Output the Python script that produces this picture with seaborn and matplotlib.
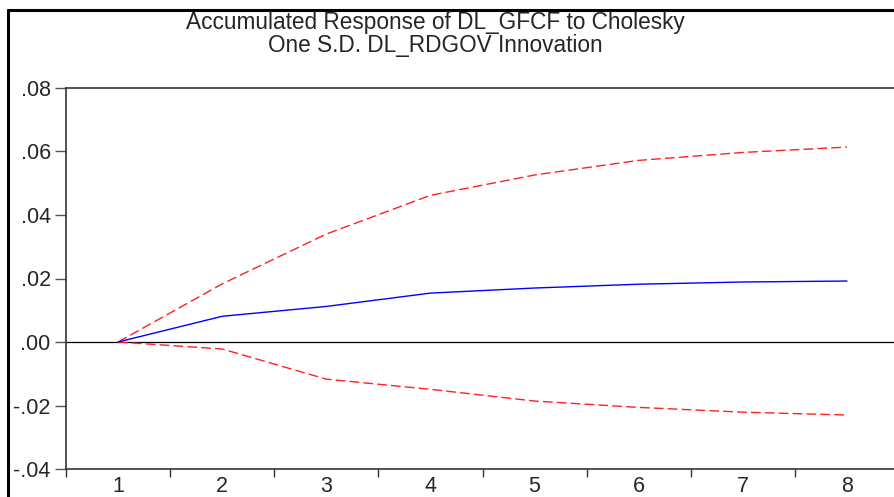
import matplotlib
matplotlib.use("Agg")
import matplotlib.pyplot as plt
from matplotlib.lines import Line2D
import pandas as pd
import seaborn as sns

sns.set_style("ticks")
plt.rcParams['font.family'] = ['Liberation Sans', 'DejaVu Sans']

# periods and accumulated responses
periods = [1, 2, 3, 4, 5, 6, 7, 8]
response = [0.0, 0.0081, 0.0112, 0.0154, 0.0170, 0.0182, 0.0189, 0.0192]
upper_band = [0.0, 0.0183, 0.0340, 0.0462, 0.0526, 0.0572, 0.0597, 0.0614]
lower_band = [0.0, -0.0022, -0.0117, -0.0149, -0.0186, -0.0206, -0.0221, -0.0230]

df = pd.DataFrame({"period": periods, "response": response,
                   "upper": upper_band, "lower": lower_band})

fig = plt.figure(figsize=(8.94, 4.97), dpi=100)
ax = fig.add_axes([66 / 894, 28 / 497, 833 / 894, 381 / 497])

ax.axhline(0, color="black", lw=0.9, zorder=1)
sns.lineplot(data=df, x="period", y="upper", ax=ax, color="#ff2020",
             lw=1, linestyle=(0, (7, 3)))
sns.lineplot(data=df, x="period", y="lower", ax=ax, color="#ff2020",
             lw=1, linestyle=(0, (7, 3)))
sns.lineplot(data=df, x="period", y="response", ax=ax, color="#0000ff", lw=1)

ax.set_xlim(0.5, 8.5)
ax.set_ylim(-0.04, 0.08)
ax.set_xticks([p + 0.5 for p in periods[:-1]] + [0.5], minor=False)
ax.set_xticklabels([])
ax.set_xticks(periods, minor=True)
ax.set_xticklabels([str(p) for p in periods], minor=True)
ax.tick_params(axis="x", which="minor", length=0, labelsize=15.5, pad=5)
ax.tick_params(axis="x", which="major", length=6, width=1, color="#333333")
yt = [-0.04, -0.02, 0.0, 0.02, 0.04, 0.06, 0.08]
ax.set_yticks(yt)
ax.set_yticklabels([f"{v:.2f}".replace("0.", ".") for v in yt])
ax.tick_params(axis="y", length=8, width=1, labelsize=15.5, pad=3, color="#555555")
ax.set_xlabel("")
ax.set_ylabel("")
for s in ["left", "top", "bottom"]:
    ax.spines[s].set_color("#333333")
    ax.spines[s].set_linewidth(1.2)
ax.spines["right"].set_visible(False)

fig.text(0.487, 1 - 34 / 497, "Accumulated Response of DL_GFCF to Cholesky\nOne S.D. DL_RDGOV Innovation",
         ha="center", va="center", fontsize=16.3, linespacing=1.05)

# outer frame (top and left edges)
fig.add_artist(Line2D([8 / 894, 1], [1 - 10 / 497, 1 - 10 / 497], color="black", lw=2.2, transform=fig.transFigure))
fig.add_artist(Line2D([8 / 894, 8 / 894], [0, 1 - 10 / 497], color="black", lw=2.2, transform=fig.transFigure))

fig.savefig("out.png", dpi=100)
